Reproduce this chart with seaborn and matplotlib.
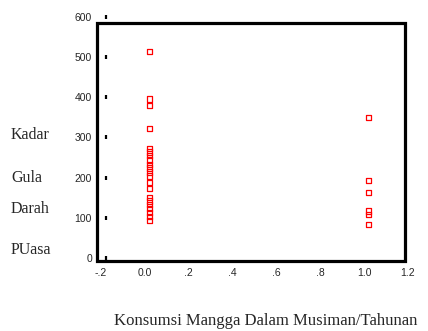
import pandas as pd
import seaborn as sns
import matplotlib.pyplot as plt
from matplotlib.patches import Rectangle
from matplotlib.transforms import blended_transform_factory

sns.set_style('white')
plt.rcParams['font.family'] = ['Liberation Sans', 'DejaVu Sans']

# nilai
gula_tidak = [515, 396, 380, 322, 272, 264, 255, 244, 233, 224, 214, 204, 188,
              174, 151, 142, 133, 123, 113, 103, 93]
gula_ya = [350, 193, 164, 117, 108, 84]
x_tidak = 0.02
x_ya = 1.02

y_ticks = [0, 100, 200, 300, 400, 500, 600]
x_ticks = [-0.2, 0.0, 0.2, 0.4, 0.6, 0.8, 1.0, 1.2]
x_tick_labels = ['-.2', '0.0', '.2', '.4', '.6', '.8', '1.0', '1.2']
ylabel_parts = ['Kadar', 'Gula', 'Darah', 'PUasa']
xlabel = 'Konsumsi Mangga Dalam Musiman/Tahunan'

df = pd.DataFrame({
    'konsumsi': [x_tidak] * len(gula_tidak) + [x_ya] * len(gula_ya),
    'gula': gula_tidak + gula_ya,
})

W, H = 428, 331
fig = plt.figure(figsize=(W / 100, H / 100), dpi=100)
# posisi sumbu dalam piksel
ax = fig.add_axes([101 / W, (H - 258) / H, 307 / W, 241 / H])

sns.scatterplot(data=df, x='konsumsi', y='gula', ax=ax, marker='s', s=14,
                facecolor='none', edgecolor='red', linewidth=0.9)

ax.set_xlim(-0.2, 1.2)
ax.set_ylim(0, 600)
for sp in ax.spines.values():
    sp.set_visible(False)

ax.set_xticks(x_ticks)
ax.set_xticklabels(x_tick_labels)
ax.set_yticks(y_ticks)
ax.tick_params(axis='x', length=0, pad=7, labelsize=7.5)
ax.tick_params(axis='y', length=0, pad=6.5, labelsize=7.5)
ax.set_xlabel('')
ax.set_ylabel('')

# tanda tick kecil di dalam bingkai
trans = blended_transform_factory(ax.transAxes, ax.transData)
ax.plot([0.016] * len(y_ticks), y_ticks, linestyle='none', marker='|',
        ms=3.5, mew=1.6, color='black', transform=trans, clip_on=False)

# bingkai tebal
frame = Rectangle((-0.013, -0.012), 1.002, 0.989, transform=ax.transAxes,
                  fill=False, lw=2.3, ec='black', clip_on=False)
ax.add_patch(frame)

serif = ['Liberation Serif', 'DejaVu Serif']
for txt, yy in zip(ylabel_parts, [135, 178, 209, 250]):
    fig.text(11 / W, 1 - yy / H, txt, family=serif, fontsize=11.5,
             ha='left', va='center')
fig.text(266 / W, 1 - 321 / H, xlabel, family=serif, fontsize=12,
         ha='center', va='center')

fig.savefig('out.png', dpi=100)
